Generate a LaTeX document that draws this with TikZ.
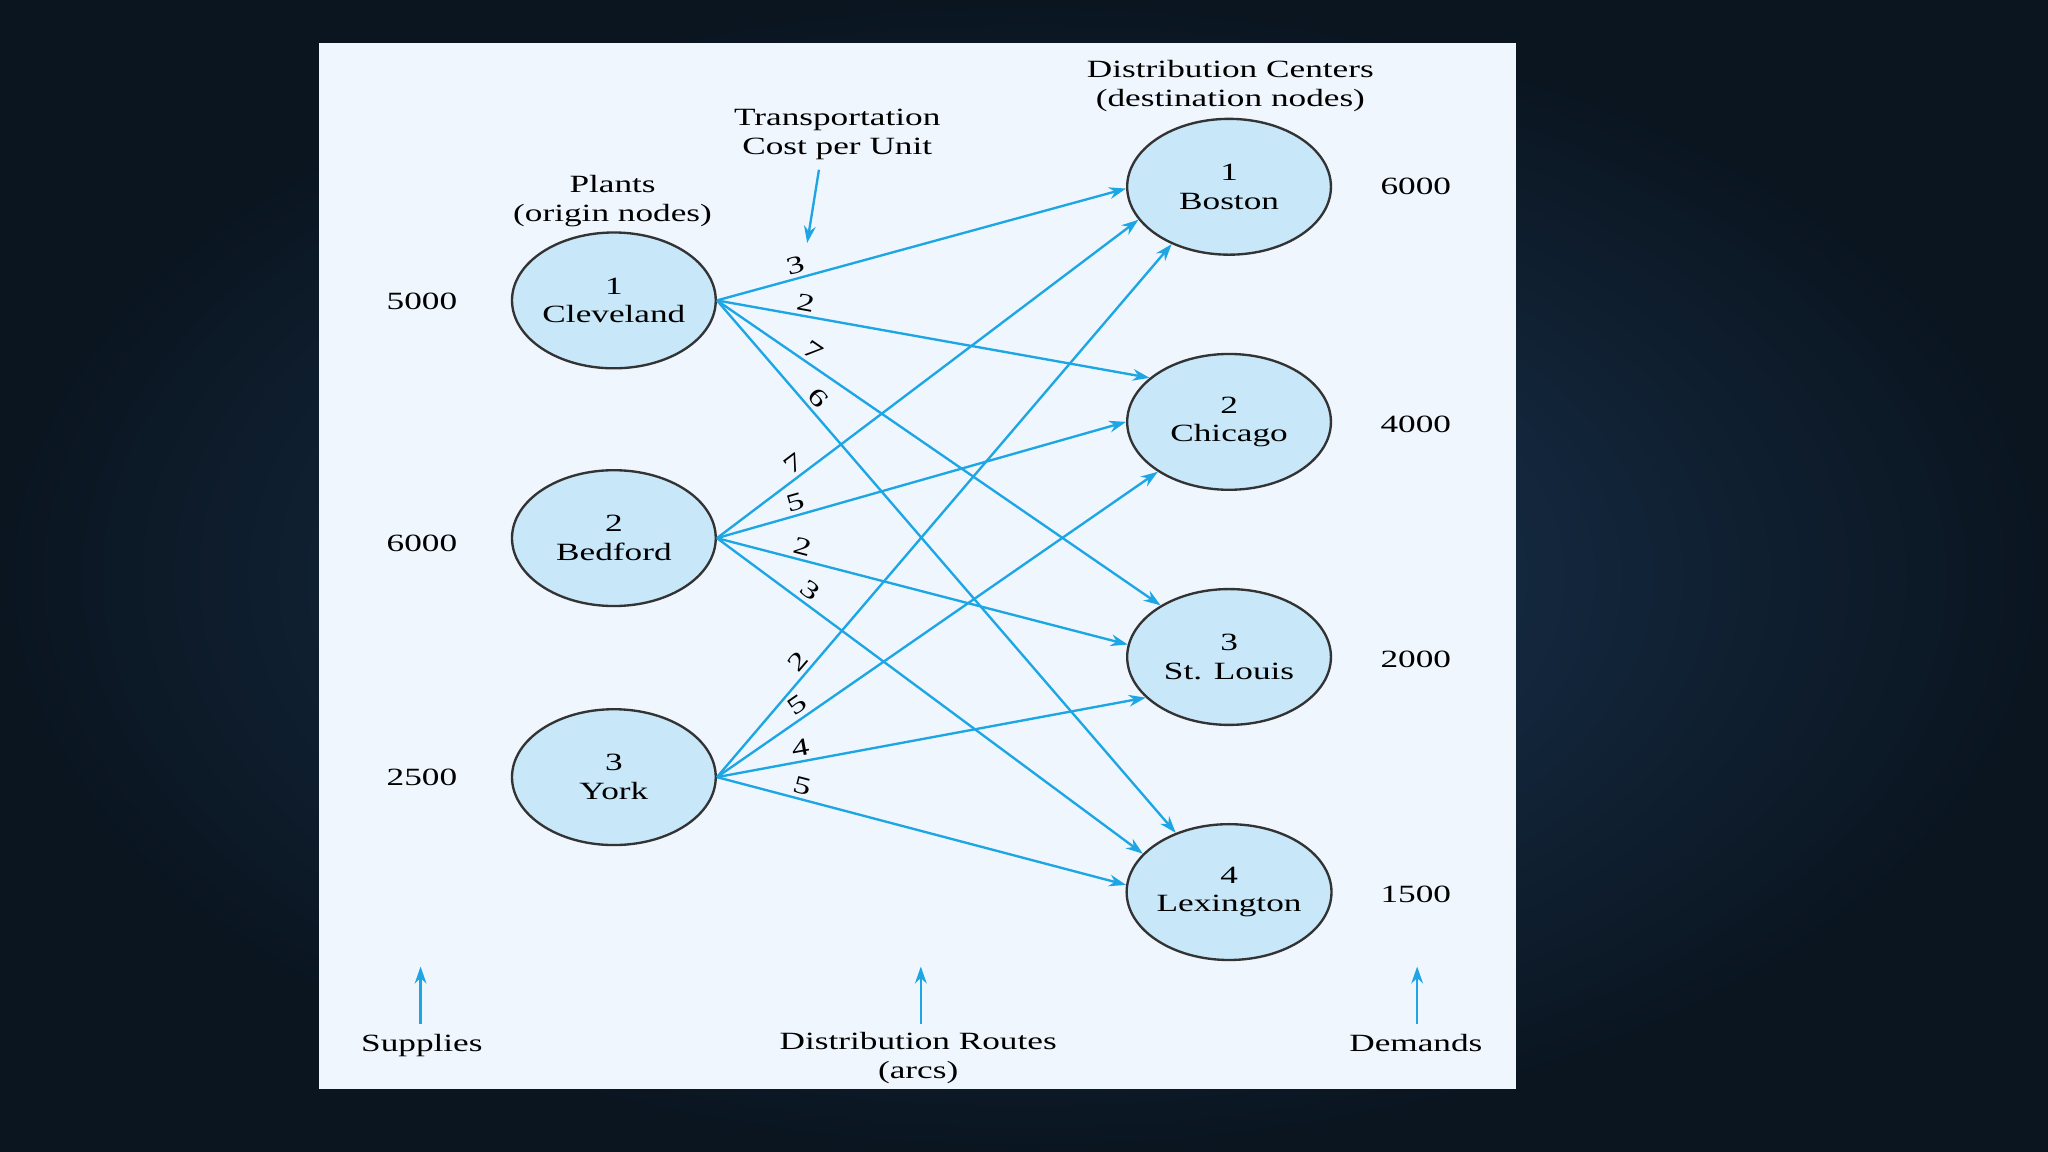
\documentclass[tikz,border=0pt]{standalone}
\usepackage{fontspec}
\setmainfont{Liberation Serif}[FakeStretch=1.42]
\usetikzlibrary{shapes.geometric,arrows.meta}
\definecolor{bgdark}{HTML}{0A1520}
\definecolor{bgmid}{HTML}{1C3858}
\definecolor{panel}{HTML}{EFF6FD}
\definecolor{nodefill}{HTML}{C8E7F9}
\definecolor{arc}{HTML}{1DA6E4}
\definecolor{rim}{HTML}{333333}
\begin{document}
\begin{tikzpicture}[x=1pt,y=-1pt,
  every node/.style={font=\fontsize{19}{22}\selectfont, text=black},
  place/.style={ellipse, draw=rim, line width=1.8pt, fill=nodefill,
    minimum width=156pt, minimum height=104pt, inner sep=0pt, align=center},
  lbl/.style={align=center, inner sep=0pt},
  route/.style={draw=arc, line width=1.8pt, -{Stealth[length=13pt,width=9pt]}},
  cost/.style={sloped, above, inner sep=3pt, pos=0.2},
]
\useasboundingbox (0,0) rectangle (1568,882);
\shade[inner color=bgmid, outer color=bgdark] (0,0) rectangle (1568,882);
\fill[panel] (244,33) rectangle (1161,834);

% origin nodes
\node[place] (c1) at (470,230) {1\\Cleveland};
\node[place] (c2) at (470,412) {2\\Bedford};
\node[place] (c3) at (470,595) {3\\York};
% destination nodes
\node[place] (d1) at (941,143) {1\\Boston};
\node[place] (d2) at (941,323) {2\\Chicago};
\node[place] (d3) at (941,503) {3\\St. Louis};
\node[place] (d4) at (941,683) {4\\Lexington};

% headers
\node[lbl] (plants) at (469,154) {Plants\\(origin nodes)};
\node[lbl] (tcost) at (641,103) {Transportation\\Cost per Unit};
\node[lbl] (dcent) at (942,66) {Distribution Centers\\(destination nodes)};

% supplies and demands
\node[lbl] (s1) at (323,231) {5000};
\node[lbl] (s2) at (323,416) {6000};
\node[lbl] (s3) at (323,595) {2500};
\node[lbl] (t1) at (1084,143) {6000};
\node[lbl] (t2) at (1084,325) {4000};
\node[lbl] (t3) at (1084,505) {2000};
\node[lbl] (t4) at (1084,685) {1500};

% bottom labels
\node[lbl, anchor=base] (sup) at (323,805) {Supplies};
\node[lbl] (rts) at (703,810) {Distribution Routes\\(arcs)};
\node[lbl, anchor=base] (dem) at (1084,805) {Demands};

% routes
\draw[route] (c1.east) -- node[cost]{3} (d1.181);
\draw[route] (c1.east) -- node[cost]{2} (d2.151);
\draw[route] (c1.east) -- node[cost]{7} (d3.143);
\draw[route] (c1.east) -- node[cost]{6} (d4.132);
\draw[route] (c2.east) -- node[cost]{7} (d1.200);
\draw[route] (c2.east) -- node[cost]{5} (d2.180);
\draw[route] (c2.east) -- node[cost]{2} (d3.173);
\draw[route] (c2.east) -- node[cost]{3} (d4.156);
\draw[route] (c3.east) -- node[cost]{2} (d1.225);
\draw[route] (c3.east) -- node[cost]{5} (d2.215);
\draw[route] (c3.east) -- node[cost]{4} (d3.206);
\draw[route] (c3.east) -- node[cost]{5} (d4.176);

% pointer arrows
\coordinate (tcTail) at (627,130);
\coordinate (tcTip) at (618,186);
\draw[route] (tcTail) -- (tcTip);
\coordinate (supTail) at (322,784);
\coordinate (supTip) at (322,740);
\draw[route] (supTail) -- (supTip);
\coordinate (rtsTail) at (705,784);
\coordinate (rtsTip) at (705,740);
\draw[route] (rtsTail) -- (rtsTip);
\coordinate (demTail) at (1085,784);
\coordinate (demTip) at (1085,740);
\draw[route] (demTail) -- (demTip);
\end{tikzpicture}
\end{document}
